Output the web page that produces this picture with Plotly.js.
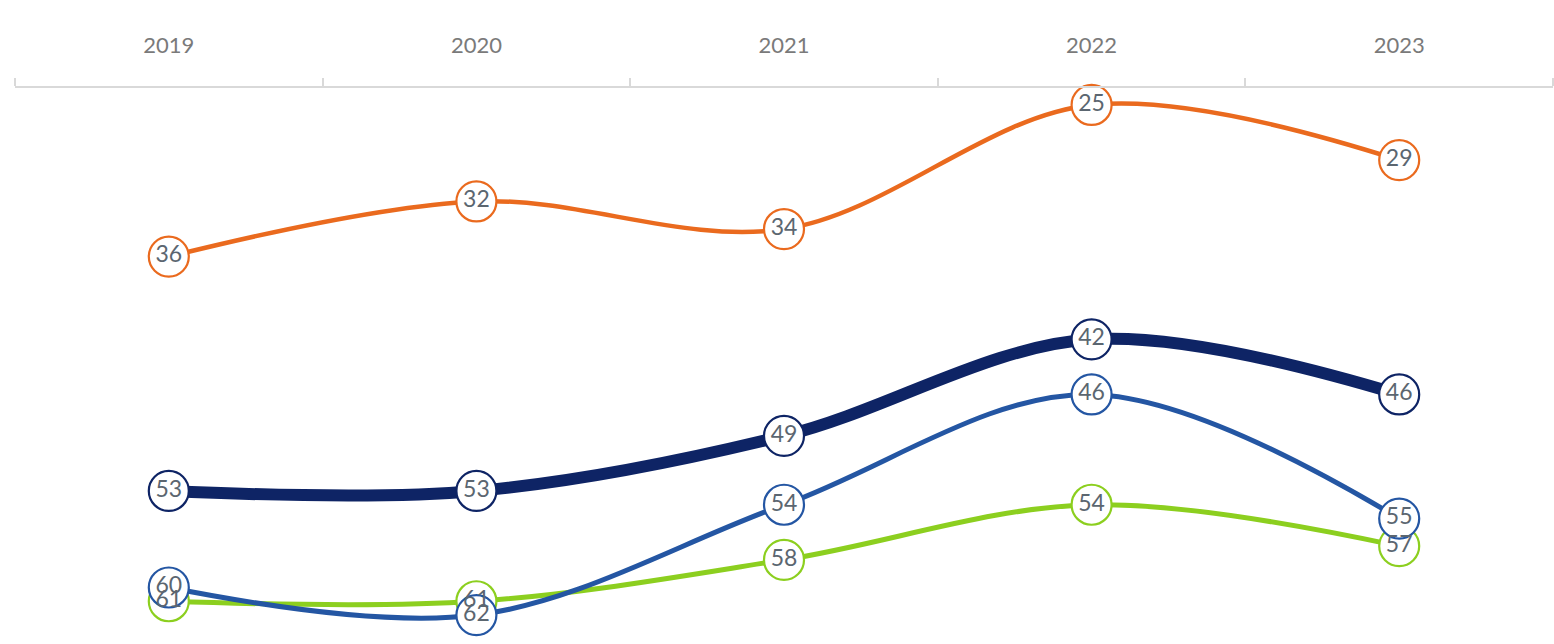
<!DOCTYPE html>
<html>
<head>
<meta charset="utf-8">
<script src="https://cdn.plot.ly/plotly-3.0.1.min.js"></script>
<style>html,body{margin:0;padding:0;background:#fff;}#chart{width:1554px;height:644px;}</style>
</head>
<body>
<div id="chart"></div>
<script>
const years = ["2019", "2020", "2021", "2022", "2023"];
const orangeSeries = [36, 32, 34, 25, 29];
const navySeries = [53, 53, 49, 42, 46];
const blueSeries = [60, 62, 54, 46, 55];
const greenSeries = [61, 61, 58, 54, 57];

function mk(vals, color, width) {
  return {
    x: years, y: vals, type: 'scatter', mode: 'lines+markers',
    line: {color: color, width: width, shape: 'spline', smoothing: 1},
    marker: {size: 40, color: '#ffffff', line: {color: color, width: 2.2}},
    cliponaxis: false, hoverinfo: 'skip', showlegend: false
  };
}
function lbl(vals) {
  return {
    x: years, y: vals, type: 'scatter', mode: 'text',
    text: vals.map(String), textposition: 'middle center',
    textfont: {family: 'Lato, "Open Sans", sans-serif', size: 23, color: '#5b6670'},
    cliponaxis: false, hoverinfo: 'skip', showlegend: false
  };
}

const data = [
  mk(greenSeries, '#8ccf1f', 5),
  mk(blueSeries, '#2456a3', 5),
  mk(navySeries, '#0e2465', 12),
  mk(orangeSeries, '#ea6a1e', 4.5),
  lbl(greenSeries), lbl(blueSeries), lbl(navySeries), lbl(orangeSeries)
];

const layout = {
  width: 1554, height: 644,
  margin: {l: 15, r: 1, t: 88, b: 0},
  paper_bgcolor: '#ffffff', plot_bgcolor: '#ffffff',
  xaxis: {
    type: 'category', side: 'top', range: [-0.5, 4.5],
    showline: true, linecolor: '#d9d9d9', linewidth: 2,
    showgrid: false, zeroline: false,
    ticks: 'outside', tickson: 'boundaries', ticklen: 8, tickcolor: '#d9d9d9', tickwidth: 2,
    tickfont: {family: 'Lato, "Open Sans", sans-serif', size: 22, color: '#7a7a7a'},
    ticklabelstandoff: 24
  },
  yaxis: {
    range: [64.1, 23.77], showgrid: false, zeroline: false, showline: false,
    showticklabels: false, ticks: ''
  }
};

Plotly.newPlot('chart', data, layout, {displayModeBar: false, staticPlot: true});
</script>
</body>
</html>
